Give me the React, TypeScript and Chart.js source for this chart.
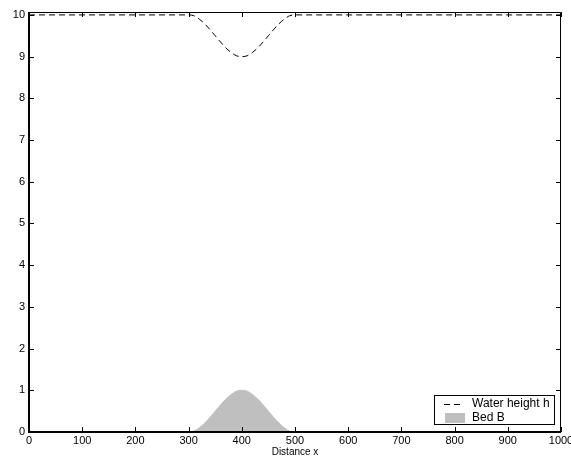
import React, { useEffect, useRef } from "react";
import { Chart, registerables } from "chart.js";

Chart.register(...registerables);

const xValues = [0, 300, 310, 320, 330, 340, 350, 360, 370, 380, 390, 400, 410, 420, 430, 440, 450, 460, 470, 480, 490, 500, 1000];
const bedValues = [0, 0, 0.02, 0.1, 0.21, 0.35, 0.5, 0.65, 0.79, 0.9, 0.98, 1, 0.98, 0.9, 0.79, 0.65, 0.5, 0.35, 0.21, 0.1, 0.02, 0, 0];
const waterValues = [10, 10, 9.98, 9.9, 9.79, 9.65, 9.5, 9.35, 9.21, 9.1, 9.02, 9, 9.02, 9.1, 9.21, 9.35, 9.5, 9.65, 9.79, 9.9, 9.98, 10, 10];
const xTicks = [0, 100, 200, 300, 400, 500, 600, 700, 800, 900, 1000];
const yTicks = [0, 1, 2, 3, 4, 5, 6, 7, 8, 9, 10];
const legendLabels = ["Water height h", "Bed B"];
const xTitle = "Distance x";

const FONT = '"Liberation Sans", Arial, Helvetica, sans-serif';

const axesPlugin = {
  id: "matlabAxes",
  afterDatasetsDraw(chart: any) {
    const { ctx, chartArea } = chart;
    const xs = chart.scales.x;
    const ys = chart.scales.y;
    const { left, right, top, bottom } = chartArea;
    ctx.save();
    ctx.strokeStyle = "#000";
    ctx.lineWidth = 1;
    ctx.setLineDash([]);
    // box
    ctx.beginPath();
    ctx.rect(left + 0.5, top + 0.5, right - left - 1, bottom - top - 1);
    ctx.stroke();
    // heavier left / bottom axis lines
    ctx.lineWidth = 2;
    ctx.beginPath();
    ctx.moveTo(left, top);
    ctx.lineTo(left, bottom);
    ctx.lineTo(right, bottom);
    ctx.stroke();
    ctx.lineWidth = 1;
    const tl = 5;
    ctx.beginPath();
    xTicks.forEach((v) => {
      const px = Math.round(xs.getPixelForValue(v)) + 0.5;
      ctx.moveTo(px, bottom);
      ctx.lineTo(px, bottom - tl);
      ctx.moveTo(px, top);
      ctx.lineTo(px, top + tl);
    });
    yTicks.forEach((v) => {
      const py = Math.round(ys.getPixelForValue(v)) + 0.5;
      ctx.moveTo(left, py);
      ctx.lineTo(left + tl, py);
      ctx.moveTo(right, py);
      ctx.lineTo(right - tl, py);
    });
    ctx.stroke();
    // tick labels
    ctx.fillStyle = "#000";
    ctx.font = `11px ${FONT}`;
    ctx.textAlign = "center";
    ctx.textBaseline = "top";
    xTicks.forEach((v) => {
      ctx.fillText(String(v), xs.getPixelForValue(v), bottom + 3);
    });
    ctx.textAlign = "right";
    ctx.textBaseline = "middle";
    yTicks.forEach((v) => {
      ctx.fillText(String(v), left - 4, ys.getPixelForValue(v));
    });
    // axis title
    ctx.font = `10px ${FONT}`;
    ctx.textAlign = "center";
    ctx.textBaseline = "top";
    ctx.fillText(xTitle, (left + right) / 2, bottom + 15);
    // legend
    const lx1 = right - 127;
    const lx2 = right - 6;
    const ly1 = bottom - 37;
    const ly2 = bottom - 7;
    ctx.fillStyle = "#fff";
    ctx.fillRect(lx1, ly1, lx2 - lx1, ly2 - ly1);
    ctx.strokeRect(lx1 + 0.5, ly1 + 0.5, lx2 - lx1 - 1, ly2 - ly1 - 1);
    const row1 = ly1 + 9;
    const row2 = ly1 + 23;
    ctx.setLineDash([6, 4]);
    ctx.beginPath();
    ctx.moveTo(lx1 + 10, row1 + 0.5);
    ctx.lineTo(lx1 + 30, row1 + 0.5);
    ctx.stroke();
    ctx.setLineDash([]);
    ctx.fillStyle = "#bfbfbf";
    ctx.fillRect(lx1 + 11, row2 - 5, 20, 10);
    ctx.fillStyle = "#000";
    ctx.font = `12px ${FONT}`;
    ctx.textAlign = "left";
    ctx.textBaseline = "middle";
    ctx.fillText(legendLabels[0], lx1 + 38, row1);
    ctx.fillText(legendLabels[1], lx1 + 38, row2);
    ctx.restore();
  },
};

export default function App() {
  const ref = useRef<HTMLCanvasElement | null>(null);
  useEffect(() => {
    document.body.style.margin = "0";
    const canvas = ref.current;
    if (!canvas) return;
    const bed = xValues.map((x, i) => ({ x, y: bedValues[i] }));
    const water = xValues.map((x, i) => ({ x, y: waterValues[i] }));
    const chart = new Chart(canvas, {
      type: "line",
      data: {
        datasets: [
          {
            label: legendLabels[1],
            data: bed,
            borderColor: "#bfbfbf",
            backgroundColor: "#bfbfbf",
            borderWidth: 1,
            fill: "origin",
            pointRadius: 0,
            cubicInterpolationMode: "monotone",
          },
          {
            label: legendLabels[0],
            data: water,
            borderColor: "#000",
            borderWidth: 1,
            borderDash: [6, 4],
            fill: false,
            pointRadius: 0,
            cubicInterpolationMode: "monotone",
          },
        ],
      },
      options: {
        animation: false,
        responsive: true,
        maintainAspectRatio: false,
        layout: { padding: { top: 12, right: 10, left: 0, bottom: 0 } },
        plugins: { legend: { display: false }, tooltip: { enabled: false } },
        scales: {
          x: {
            type: "linear",
            min: 0,
            max: 1000,
            grid: { display: false },
            border: { display: false },
            ticks: { display: false },
            afterFit: (s: any) => {
              s.height = 27;
            },
          },
          y: {
            type: "linear",
            min: 0,
            max: 10.07,
            grid: { display: false },
            border: { display: false },
            ticks: { display: false },
            afterFit: (s: any) => {
              s.width = 29;
            },
          },
        },
      },
      plugins: [axesPlugin],
    } as any);
    return () => chart.destroy();
  }, []);
  return (
    <div style={{ width: 571, height: 459, position: "relative", background: "#fff" }}>
      <canvas ref={ref} />
    </div>
  );
}
